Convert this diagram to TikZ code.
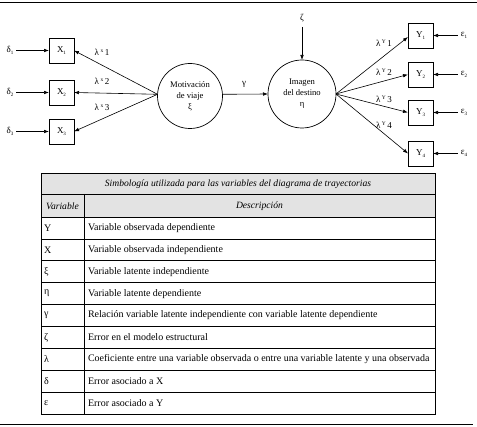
\documentclass[tikz,border=0pt]{standalone}
\usepackage{fontspec}
\setmainfont{Liberation Serif}
\usetikzlibrary{arrows.meta}
\begin{document}
\begin{tikzpicture}[x=1pt,y=-1pt,
  every node/.style={inner sep=0pt, outer sep=0pt},
  obs/.style={draw, line width=0.7pt, minimum size=25pt, font=\fontsize{9}{10}\selectfont},
  lat/.style={draw, circle, line width=0.7pt, align=center, font=\fontsize{8.6}{11}\selectfont},
  lbl/.style={font=\fontsize{9}{10}\selectfont},
  arr/.style={line width=0.6pt, -{Latex[length=5pt,width=3.6pt]}},
  tline/.style={line width=0.7pt},
  ttext/.style={font=\fontsize{10}{11}\selectfont, anchor=west},
  thead/.style={font=\fontsize{9.6}{11}\selectfont\itshape},
  rule/.style={line width=1pt}
]
\useasboundingbox (0,0) rectangle (477,427);
\newcommand{\sbx}[1]{\raisebox{-1.5pt}{\fontsize{5}{5}\selectfont #1}}
\newcommand{\spx}[1]{\,\raisebox{2.2pt}{\fontsize{5.5}{5}\selectfont #1}\,}
% rules
\draw[rule] (0,3) -- (477,3);
\draw[rule] (0,425) -- (473,425);
% X boxes
\node[obs] (x1) at (61.5,50.5) {X\sbx{1}};
\node[obs] (x2) at (61.5,92.5) {X\sbx{2}};
\node[obs] (x3) at (61.5,131.5) {X\sbx{3}};
\node[lbl] (d1) at (10,50.5) {δ\sbx{1}};
\node[lbl] (d2) at (10,92.5) {δ\sbx{2}};
\node[lbl] (d3) at (10,131.5) {δ\sbx{3}};
\draw[arr] ([xshift=3pt]d1.east) -- (x1.west);
\draw[arr] ([xshift=3pt]d2.east) -- (x2.west);
\draw[arr] ([xshift=3pt]d3.east) -- (x3.west);
% latent
\node[lat, minimum size=65pt] (m) at (190,96) {Motivación\\de viaje\\ξ};
\node[lat, minimum size=68pt] (im) at (302,94) {Imagen\\del destino\\η};
\coordinate (mw) at (m.177);
\coordinate (me) at (m.3);
\draw[arr] (mw) -- (x1.east);
\draw[arr] (mw) -- (x2.east);
\draw[arr] (mw) -- (x3.east);
\node[lbl] (lx1) at (102,52) {λ\spx{x}1};
\node[lbl] (lx2) at (102,81) {λ\spx{x}2};
\node[lbl] (lx3) at (102,107) {λ\spx{x}3};
\draw[arr] (me) -- (im.west);
\node[lbl] (g) at (244,84) {γ};
\node[lbl] (z) at (302,18) {ζ};
\draw[arr] ([yshift=-5pt]z.south) -- (im.north);
% Y boxes
\node[obs] (y1) at (420.5,35.5) {Y\sbx{1}};
\node[obs] (y2) at (420.5,74.5) {Y\sbx{2}};
\node[obs] (y3) at (420.5,112.5) {Y\sbx{3}};
\node[obs] (y4) at (420.5,153.5) {Y\sbx{4}};
\node[lbl] (e1) at (464,35.5) {ε\sbx{1}};
\node[lbl] (e2) at (464,74.5) {ε\sbx{2}};
\node[lbl] (e3) at (464,112.5) {ε\sbx{3}};
\node[lbl] (e4) at (464,153.5) {ε\sbx{4}};
\draw[arr] ([xshift=-3pt]e1.west) -- (y1.east);
\draw[arr] ([xshift=-3pt]e2.west) -- (y2.east);
\draw[arr] ([xshift=-3pt]e3.west) -- (y3.east);
\draw[arr] ([xshift=-3pt]e4.west) -- (y4.east);
\coordinate (ie) at (im.east);
\draw[arr] (ie) -- ([yshift=-1.5pt]y1.west);
\draw[arr] (ie) -- (y2.west);
\draw[arr] (ie) -- (y3.west);
\draw[arr] (ie) -- (y4.west);
\node[lbl] (ly1) at (384,43) {λ\spx{Y}1};
\node[lbl] (ly2) at (384,72) {λ\spx{Y}2};
\node[lbl] (ly3) at (384,99) {λ\spx{Y}3};
\node[lbl] (ly4) at (384,125) {λ\spx{Y}4};
% table
\fill[gray!22] (41,173) rectangle (435,217);
\draw[tline] (41,173) rectangle (435,414);
\draw[tline] (41,194) -- (435,194);
\foreach \yy in {217,238.9,260.8,282.7,304.6,326.4,348.3,370.2,392.1}
  \draw[tline] (41,\yy) -- (435,\yy);
\draw[tline] (84,194) -- (84,414);
\node[thead] (th) at (238,184) {Simbología utilizada para las variables del diagrama de trayectorias};
\node[thead] (tv) at (62.5,206) {Variable};
\node[thead] (td) at (259.5,206) {Descripción};
\foreach \s/\d [count=\i from 0] in {Y/Variable observada dependiente,X/Variable observada independiente,ξ/Variable latente independiente,η/Variable latente dependiente,γ/Relación variable latente independiente con variable latente dependiente,ζ/Error en el modelo estructural,λ/Coeficiente entre una variable observada o entre una variable latente y una observada,δ/Error asociado a X,ε/Error asociado a Y}{
  \node[ttext] (s\i) at (44,{227.9+21.9*\i}) {\s};
  \node[ttext] (r\i) at (88,{227.9+21.9*\i}) {\d};
}
\end{tikzpicture}
\end{document}
